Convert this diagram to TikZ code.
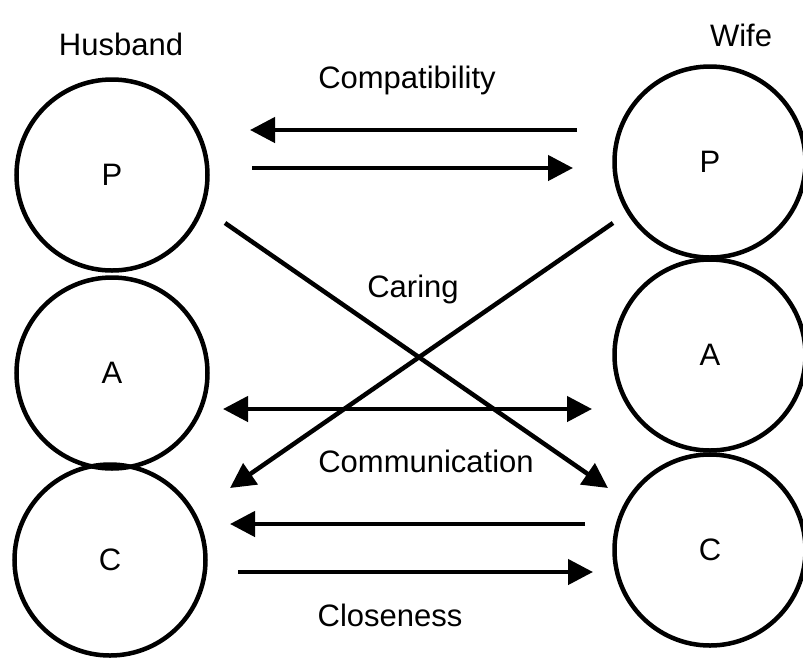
\documentclass[tikz,border=0pt]{standalone}
\usepackage{fontspec}
\setmainfont{Liberation Sans}
\usetikzlibrary{arrows.meta}
\begin{document}
\begin{tikzpicture}[x=1pt,y=-1pt,
  ring/.style={draw,circle,line width=4.5pt,inner sep=0pt,minimum size=191pt,font=\fontsize{31}{37}\selectfont},
  lbl/.style={anchor=base,inner sep=0pt,font=\fontsize{31}{37}\selectfont},
  arr/.style={line width=4.5pt,-{Triangle[length=25pt,width=25pt]}},
  darr/.style={line width=4.5pt,{Triangle[length=25pt,width=25pt]}-{Triangle[length=25pt,width=25pt]}}]
\useasboundingbox (0,0) rectangle (803,657);
\node[ring] (hp) at (112,175) {P};
\node[ring] (ha) at (112,373) {A};
\node[ring] (hc) at (110,560) {C};
\node[ring] (wp) at (710,162) {P};
\node[ring] (wa) at (710,355) {A};
\node[ring] (wc) at (710,550) {C};
\node[lbl] (husband) at (121,55) {Husband};
\node[lbl] (wife) at (741,46) {Wife};
\node[lbl] (compat) at (407,88) {Compatibility};
\node[lbl] (caring) at (413,297) {Caring};
\node[lbl] (commun) at (426,472) {Communication};
\node[lbl] (close) at (390,626) {Closeness};
% endpoints
\coordinate (c1s) at (577,130); \coordinate (c1e) at (250,130);
\coordinate (c2s) at (252,168); \coordinate (c2e) at (573,168);
\coordinate (m1) at (223,409); \coordinate (m2) at (592,409);
\coordinate (d1s) at (225,223); \coordinate (d1e) at (608,488);
\coordinate (d2s) at (613,223); \coordinate (d2e) at (230,488);
\coordinate (k1s) at (585,524); \coordinate (k1e) at (230,524);
\coordinate (k2s) at (238,572); \coordinate (k2e) at (593,572);
\draw[arr] (c1s) -- (c1e);
\draw[arr] (c2s) -- (c2e);
\draw[darr] (m1) -- (m2);
\draw[arr] (d1s) -- (d1e);
\draw[arr] (d2s) -- (d2e);
\draw[arr] (k1s) -- (k1e);
\draw[arr] (k2s) -- (k2e);
\end{tikzpicture}
\end{document}
